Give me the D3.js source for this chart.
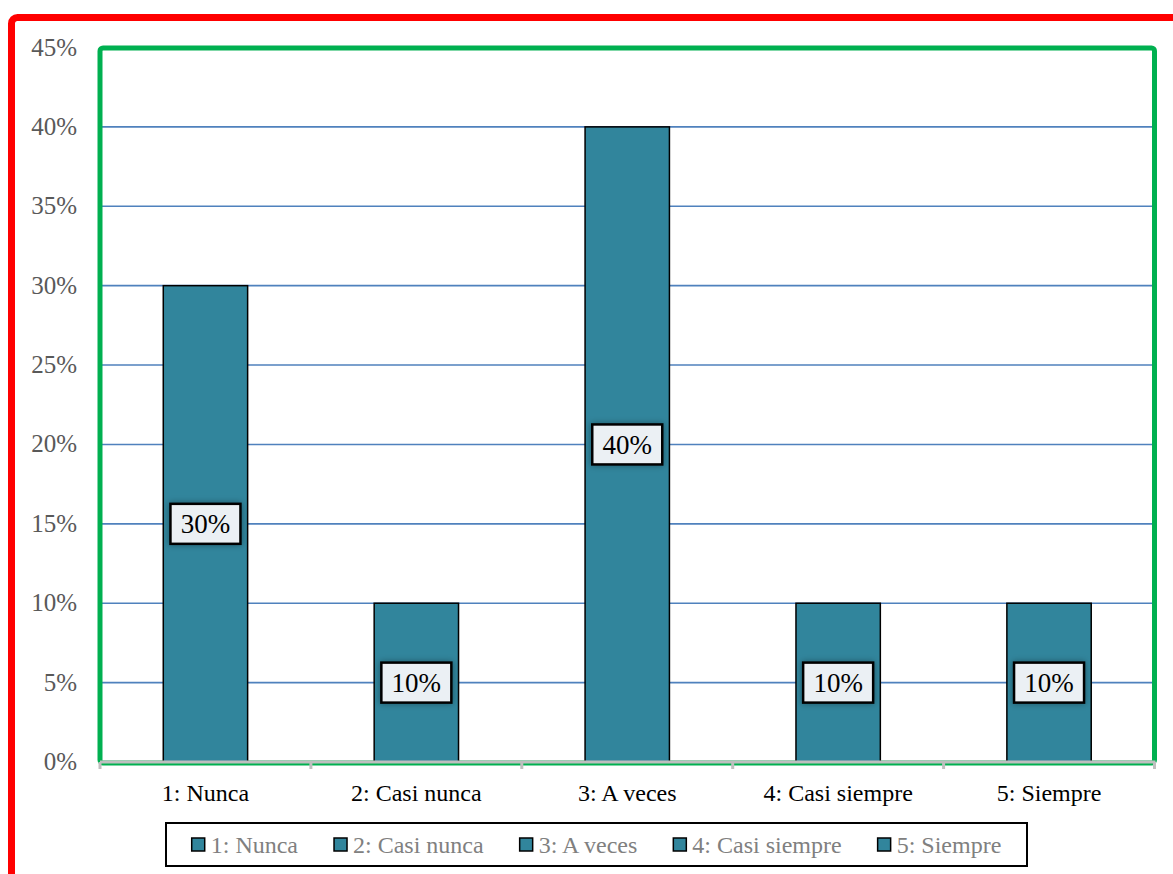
<!DOCTYPE html>
<html>
<head>
<meta charset="utf-8">
<script src="https://d3js.org/d3.v7.min.js"></script>
<style>
  body { margin: 0; background: #fff; }
  text { font-family: "Liberation Serif", "DejaVu Serif", serif; }
</style>
</head>
<body>
<div id="viz"></div>
<script>
  // datos
  var categories = ["1: Nunca", "2: Casi nunca", "3: A veces", "4: Casi siempre", "5: Siempre"];
  var values = [0.30, 0.10, 0.40, 0.10, 0.10];
  var yTicks = [0, 0.05, 0.10, 0.15, 0.20, 0.25, 0.30, 0.35, 0.40, 0.45];

  var W = 1173, H = 874;
  var pLeft = 100, pRight = 1154.5, pTop = 47.5, pBottom = 762;
  var barColor = "#31859c";

  var svg = d3.select("#viz").append("svg")
    .attr("width", W).attr("height", H);

  // sombra suave de las etiquetas
  var f = svg.append("defs").append("filter").attr("id", "sombra")
    .attr("x", "-30%").attr("y", "-30%").attr("width", "160%").attr("height", "160%");
  f.append("feDropShadow")
    .attr("dx", 0).attr("dy", 0).attr("stdDeviation", 3)
    .attr("flood-color", "#000").attr("flood-opacity", 0.35);

  // borde exterior rojo
  svg.append("rect")
    .attr("x", 11.5).attr("y", 17.5)
    .attr("width", 1300).attr("height", 1000)
    .attr("rx", 6)
    .attr("fill", "none").attr("stroke", "#ff0000").attr("stroke-width", 7);

  var x = d3.scaleBand().domain(categories).range([pLeft, pRight]);
  var y = d3.scaleLinear().domain([0, 0.45]).range([pBottom, pTop]);

  // lineas de cuadricula
  svg.append("g").selectAll("line")
    .data(yTicks.filter(function(d) { return d > 0 && d < 0.45; }))
    .enter().append("line")
    .attr("x1", pLeft).attr("x2", pRight)
    .attr("y1", function(d) { return y(d); })
    .attr("y2", function(d) { return y(d); })
    .attr("stroke", "#4f81bd").attr("stroke-width", 1.6);

  // borde verde del area de trazado
  svg.append("rect")
    .attr("x", pLeft).attr("y", 48)
    .attr("width", pRight - pLeft).attr("height", 715)
    .attr("rx", 3)
    .attr("fill", "none").attr("stroke", "#00b050").attr("stroke-width", 5);

  // barras
  var bw = x.bandwidth() * 0.4;
  svg.append("g").selectAll("rect")
    .data(values)
    .enter().append("rect")
    .attr("x", function(d, i) { return x(categories[i]) + (x.bandwidth() - bw) / 2; })
    .attr("y", function(d) { return y(d); })
    .attr("width", bw)
    .attr("height", function(d) { return y(0) - y(d); })
    .attr("fill", barColor)
    .attr("stroke", "#000").attr("stroke-width", 1.5);

  // eje x
  svg.append("line")
    .attr("x1", pLeft).attr("x2", pRight + 1)
    .attr("y1", pBottom).attr("y2", pBottom)
    .attr("stroke", "#bfbfbf").attr("stroke-width", 3);
  var edges = categories.map(function(c) { return x(c); }).concat([pRight]);
  svg.append("g").selectAll("line")
    .data(edges).enter().append("line")
    .attr("x1", function(d) { return d; }).attr("x2", function(d) { return d; })
    .attr("y1", pBottom).attr("y2", pBottom + 7)
    .attr("stroke", "#bfbfbf").attr("stroke-width", 3);

  svg.append("g").selectAll("text")
    .data(categories).enter().append("text")
    .attr("x", function(d) { return x(d) + x.bandwidth() / 2; })
    .attr("y", 801)
    .attr("text-anchor", "middle")
    .attr("font-size", 24)
    .attr("fill", "#000")
    .text(function(d) { return d; });

  // eje y
  svg.append("g").selectAll("text")
    .data(yTicks).enter().append("text")
    .attr("x", 77)
    .attr("y", function(d) { return y(d) + 8; })
    .attr("text-anchor", "end")
    .attr("font-size", 25)
    .attr("fill", "#595959")
    .text(function(d) { return d3.format(".0%")(d); });

  // etiquetas de datos
  var lab = svg.append("g").selectAll("g")
    .data(values).enter().append("g")
    .attr("transform", function(d, i) {
      return "translate(" + (x(categories[i]) + x.bandwidth() / 2) + "," + y(d / 2) + ")";
    });
  lab.append("rect")
    .attr("x", -35).attr("y", -20)
    .attr("width", 70).attr("height", 40)
    .attr("fill", "#ebf0f4")
    .attr("stroke", "#000").attr("stroke-width", 2.5)
    .attr("filter", "url(#sombra)");
  lab.append("text")
    .attr("y", 9.5)
    .attr("text-anchor", "middle")
    .attr("font-size", 27)
    .attr("fill", "#000")
    .text(function(d) { return d3.format(".0%")(d); });

  // leyenda
  var legBox = { x: 166, y: 823, w: 861, h: 43 };
  svg.append("rect")
    .attr("x", legBox.x).attr("y", legBox.y)
    .attr("width", legBox.w).attr("height", legBox.h)
    .attr("fill", "#fff").attr("stroke", "#000").attr("stroke-width", 2);

  var leg = svg.append("g");
  var items = leg.selectAll("g").data(categories).enter().append("g");
  items.append("rect")
    .attr("x", 0).attr("y", -6.5).attr("width", 13).attr("height", 13)
    .attr("fill", barColor).attr("stroke", "#000").attr("stroke-width", 1.5);
  items.append("text")
    .attr("x", 19).attr("y", 8)
    .attr("font-size", 24)
    .attr("fill", "#808080")
    .text(function(d) { return d; });

  var gap = 36, pos = 0, offs = [];
  items.each(function() {
    offs.push(pos);
    pos += 19 + d3.select(this).select("text").node().getComputedTextLength() + gap;
  });
  var total = pos - gap;
  var startX = legBox.x + (legBox.w - total) / 2;
  items.attr("transform", function(d, i) {
    return "translate(" + (startX + offs[i]) + "," + (legBox.y + legBox.h / 2) + ")";
  });
</script>
</body>
</html>
